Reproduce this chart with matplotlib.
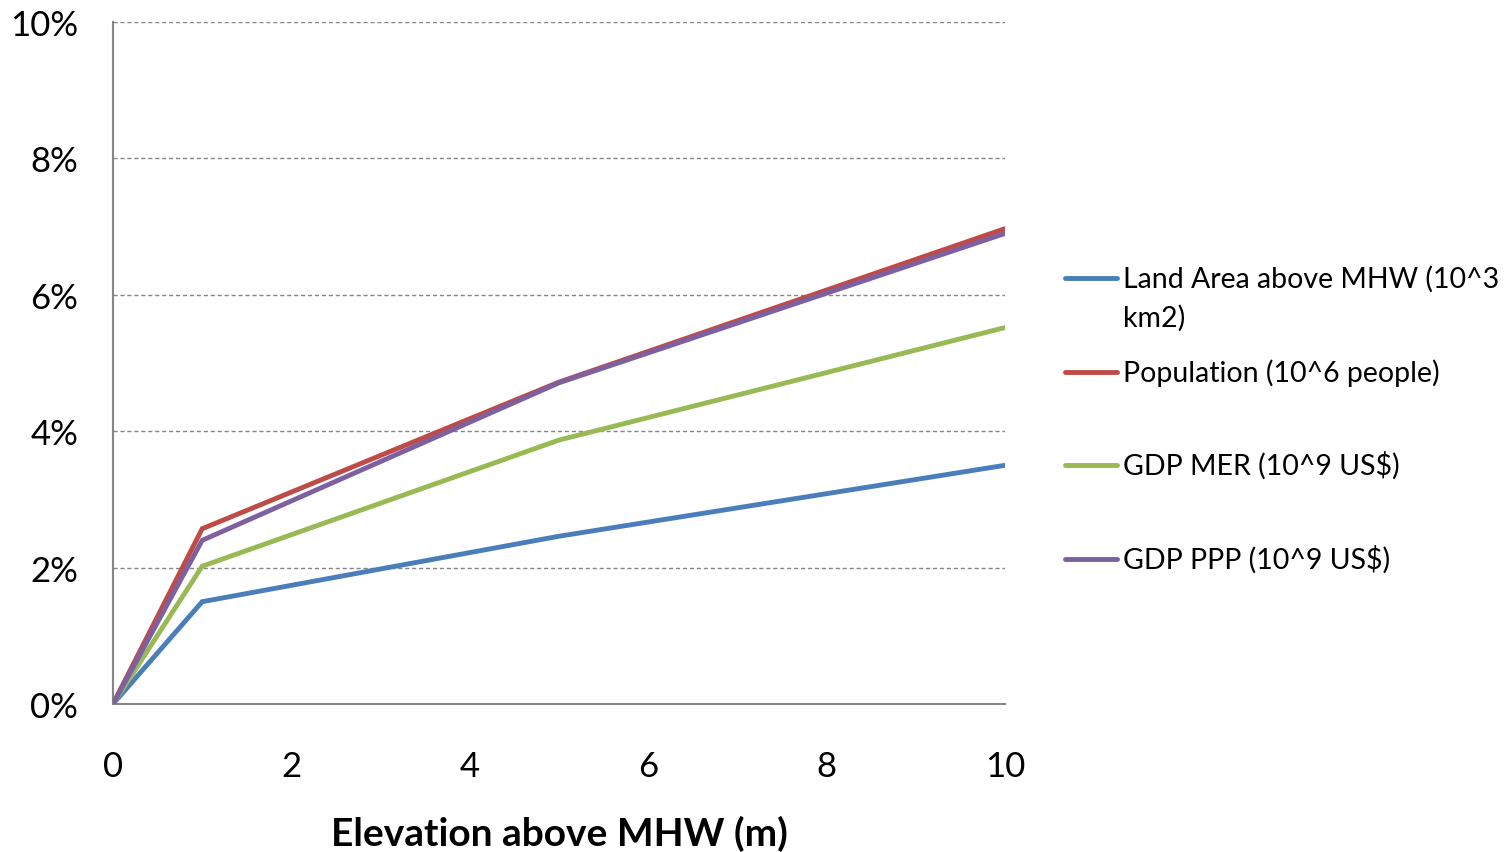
import matplotlib
matplotlib.use("Agg")
import matplotlib.pyplot as plt
from matplotlib.lines import Line2D
from matplotlib.ticker import FuncFormatter

plt.rcParams['font.family'] = ['Lato', 'DejaVu Sans']

# Elevation above mean high water (m)
elevation = [0, 1, 5, 10]

# Cumulative share of the total below each elevation (%)
land_area = [0.0, 1.50, 2.46, 3.50]
population = [0.0, 2.57, 4.72, 6.97]
gdp_mer = [0.0, 2.02, 3.87, 5.52]
gdp_ppp = [0.0, 2.40, 4.71, 6.90]

series = [
    ("Land Area above MHW (10^3\nkm2)", land_area, "#4a7ebb"),
    ("Population (10^6 people)", population, "#be4b48"),
    ("GDP MER (10^9 US$)", gdp_mer, "#98b954"),
    ("GDP PPP (10^9 US$)", gdp_ppp, "#7d60a0"),
]

x_ticks = [0, 2, 4, 6, 8, 10]
y_ticks = [0, 2, 4, 6, 8, 10]

W, H = 1512, 853
fig = plt.figure(figsize=(W / 100, H / 100), dpi=100)
ax = fig.add_axes([113 / W, 1 - 705 / H, (1005 - 113) / W, (705 - 23) / H])

for label, values, color in series:
    ax.plot(elevation, values, color=color, lw=3.5, solid_capstyle="round",
            solid_joinstyle="miter", zorder=3)

ax.set_xlim(0, 10)
ax.set_ylim(0, 10)
ax.set_xticks(x_ticks)
ax.set_yticks(y_ticks)
ax.yaxis.set_major_formatter(FuncFormatter(lambda v, p: f"{v:.0f}%"))
ax.tick_params(axis="both", length=0, labelsize=25, colors="black")
ax.tick_params(axis="x", pad=33)
ax.tick_params(axis="y", pad=25)

for y in y_ticks[1:]:
    ax.axhline(y, color="#868686", lw=1.0, ls=(0, (3, 2)), zorder=1)

for side in ("top", "right"):
    ax.spines[side].set_visible(False)
for side in ("left", "bottom"):
    ax.spines[side].set_color("#868686")
    ax.spines[side].set_linewidth(1.5)

ax.set_xlabel("Elevation above MHW (m)", fontsize=28, fontweight="bold", labelpad=24)

# Legend on the right, drawn row by row
legend_rows = [279, 373, 466, 560]
for (label, values, color), ypx in zip(series, legend_rows):
    yf = 1 - ypx / H
    fig.add_artist(Line2D([1065 / W, 1117 / W], [yf, yf], color=color, lw=3.5,
                          solid_capstyle="round", transform=fig.transFigure))
    lines = label.split("\n")
    for i, part in enumerate(lines):
        fig.text(1123 / W, 1 - (ypx + 39 * i) / H, part, fontsize=20.5,
                 va="center", ha="left")

fig.savefig("out.png", dpi=100, facecolor="white")
